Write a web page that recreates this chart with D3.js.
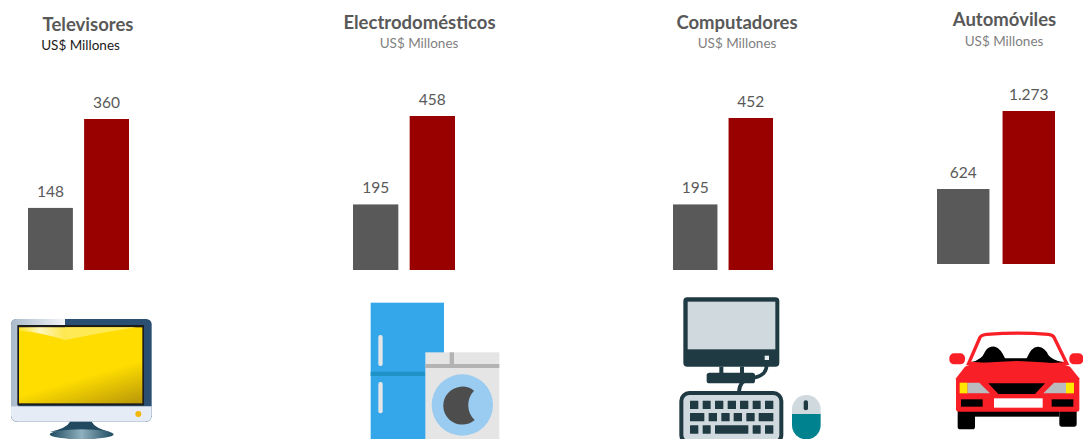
<!DOCTYPE html>
<html>
<head>
<meta charset="utf-8">
<script src="https://cdn.jsdelivr.net/npm/d3@7"></script>
<style>
  html, body { margin: 0; padding: 0; background: #fff; }
  text { font-family: Lato, "Open Sans", sans-serif; }
</style>
</head>
<body>
<div id="chart"></div>
<script>
// Values
const categories = ['Televisores', 'Electrodomésticos', 'Computadores', 'Automóviles'];
const subtitles = ['US$ Millones', 'US$ Millones', 'US$ Millones', 'US$ Millones'];
const greyValues = [148, 195, 195, 624];
const redValues = [360, 458, 452, 1273];

// Panel layout, one entry per category
const panelLeft = [28, 353, 673, 937];
const panelRight = [129, 455, 773, 1055];
const panelBase = [270, 270, 270, 264];
const panelHeight = [151, 154, 152, 153];
const titleX = [88, 419.5, 737, 1004.5];
const titleY = [31, 29, 29, 26];
const subX = [80.5, 419, 737, 1004];
const subY = [50, 48, 48, 46];
const subColor = ['#1a1a1a', '#7f7f7f', '#7f7f7f', '#7f7f7f'];

const grey = '#595959';
const red = '#990000';

const fmt = d3.formatLocale({ decimal: ',', thousands: '.', grouping: [3], currency: ['', ''] }).format(',d');

const svg = d3.select('#chart')
  .append('svg')
  .attr('width', 1083)
  .attr('height', 439)
  .style('display', 'block');

categories.forEach((name, i) => {
  const values = [greyValues[i], redValues[i]];
  const g = svg.append('g').attr('class', 'panel');

  const x = d3.scaleBand()
    .domain([0, 1])
    .range([panelLeft[i], panelRight[i]])
    .paddingInner(0.2);

  const y = d3.scaleLinear()
    .domain([0, redValues[i]])
    .range([panelBase[i], panelBase[i] - panelHeight[i]]);

  g.selectAll('rect')
    .data(values)
    .enter()
    .append('rect')
    .attr('x', (d, j) => x(j))
    .attr('y', d => y(d))
    .attr('width', x.bandwidth())
    .attr('height', d => y(0) - y(d))
    .attr('fill', (d, j) => j === 0 ? grey : red);

  g.selectAll('.value')
    .data(values)
    .enter()
    .append('text')
    .attr('class', 'value')
    .attr('x', (d, j) => x(j) + x.bandwidth() / 2)
    .attr('y', d => y(d) - 11)
    .attr('text-anchor', 'middle')
    .attr('font-size', 15.5)
    .attr('fill', grey)
    .text(d => fmt(d));

  g.append('text')
    .attr('x', titleX[i])
    .attr('y', titleY[i])
    .attr('text-anchor', 'middle')
    .attr('font-size', 18.5)
    .attr('font-weight', 700)
    .attr('fill', grey)
    .text(name);

  g.append('text')
    .attr('x', subX[i])
    .attr('y', subY[i])
    .attr('text-anchor', 'middle')
    .attr('font-size', 13.5)
    .attr('fill', subColor[i])
    .text(subtitles[i]);
});

// Icons, drawn at 3x and scaled down
function icon(ox, oy) {
  return svg.append('g').attr('transform', `translate(${ox},${oy}) scale(${1 / 3})`);
}
function box(g, x0, y0, x1, y1, fill, r) {
  return g.append('rect')
    .attr('x', x0).attr('y', y0)
    .attr('width', x1 - x0).attr('height', y1 - y0)
    .attr('rx', r || 0)
    .attr('fill', fill);
}
function shape(g, d, fill) {
  return g.append('path').attr('d', d).attr('fill', fill);
}

// Gradients for the television
const defs = svg.append('defs');
const screenGrad = defs.append('linearGradient')
  .attr('id', 'screenGrad')
  .attr('x1', 0.35).attr('y1', 0.1).attr('x2', 0.8).attr('y2', 1.05);
screenGrad.append('stop').attr('offset', '0.55').attr('stop-color', '#ffdd00');
screenGrad.append('stop').attr('offset', '1').attr('stop-color', '#bd9c08');
const glareGrad = defs.append('linearGradient').attr('id', 'glareGrad');
glareGrad.append('stop').attr('offset', '0').attr('stop-color', '#fff').attr('stop-opacity', 0.15);
glareGrad.append('stop').attr('offset', '0.45').attr('stop-color', '#fff').attr('stop-opacity', 0.75);
glareGrad.append('stop').attr('offset', '1').attr('stop-color', '#fff').attr('stop-opacity', 0.3);
const frameGrad = defs.append('linearGradient').attr('id', 'frameGrad');
frameGrad.append('stop').attr('offset', '0').attr('stop-color', '#a9bacb');
frameGrad.append('stop').attr('offset', '1').attr('stop-color', '#f2f4f7');
const baseGrad = defs.append('linearGradient').attr('id', 'standGrad');
baseGrad.append('stop').attr('offset', '0').attr('stop-color', '#1f4a60');
baseGrad.append('stop').attr('offset', '0.5').attr('stop-color', '#8fb0bd');
baseGrad.append('stop').attr('offset', '1').attr('stop-color', '#1f4a60');

// Television
const tv = icon(0, 290);
box(tv, 33, 87, 455, 395, '#2b4e73', 16);
shape(tv, 'M195,87 H50 Q33,87 33,104 V350 H55 V105 H195 Z', 'url(#frameGrad)');
box(tv, 52, 105, 432, 346, '#1c1c1c');
box(tv, 57, 112, 427, 340, 'url(#screenGrad)');
shape(tv, 'M57,112 H195 V150 Q120,126 57,122 Z', 'url(#glareGrad)');
shape(tv, 'M195,112 H410 Q300,128 195,150 Z', '#ffea55');
shape(tv, 'M33,349 H455 V375 Q455,395 435,395 H53 Q33,395 33,375 Z', '#e6ecf6');
tv.append('circle').attr('cx', 415).attr('cy', 372).attr('r', 9).attr('fill', '#f2b705');
shape(tv, 'M210,395 H275 Q285,415 330,425 L150,425 Q200,415 210,395 Z', '#214a60');
tv.append('ellipse').attr('cx', 245).attr('cy', 433).attr('rx', 96).attr('ry', 15).attr('fill', 'url(#standGrad)');

// Fridge and washing machine
const wash = icon(350, 290);
box(wash, 62, 38, 282, 449, '#33a7ea');
box(wash, 62, 245, 226, 258, '#1f93c8');
box(wash, 85, 135, 98, 228, '#e6e6e6', 6);
box(wash, 85, 276, 98, 370, '#e6e6e6', 6);
box(wash, 226, 187, 448, 449, '#e5e5e5');
box(wash, 226, 222, 448, 234, '#b3b3b3');
box(wash, 299, 187, 312, 222, '#b3b3b3');
wash.append('circle').attr('cx', 337).attr('cy', 345).attr('r', 92).attr('fill', '#9acbf0');
shape(wash, 'M372,302 A57,57 0 1 0 374,390 A62,62 0 0 1 372,302 Z', '#4d4d4d');

// Computer
const dark = '#1f3a42';
const pale = '#cfd9de';
const pc = icon(660, 290);
box(pc, 70, 22, 358, 230, dark, 12);
box(pc, 83, 35, 346, 178, pale);
box(pc, 314, 197, 327, 210, '#e8eef0');
box(pc, 178, 230, 190, 250, dark);
box(pc, 240, 230, 252, 250, dark);
box(pc, 140, 248, 285, 280, dark, 8);
pc.append('path')
  .attr('d', 'M320,228 C318,255 295,262 270,265 C245,270 238,285 237,305')
  .attr('fill', 'none').attr('stroke', dark).attr('stroke-width', 11);
pc.append('rect')
  .attr('x', 64).attr('y', 309).attr('width', 300).attr('height', 150).attr('rx', 24)
  .attr('fill', pale).attr('stroke', dark).attr('stroke-width', 12);
[[332, [[90, 115], [128, 152], [165, 190], [203, 228], [240, 265], [278, 302], [315, 340]]],
 [369, [[90, 133], [146, 171], [184, 209], [221, 246], [259, 284], [296, 340]]],
 [406, [[90, 115], [128, 152], [165, 265], [278, 302], [315, 340]]]
].forEach(([top, keys]) => {
  keys.forEach(k => box(pc, k[0], top, k[1], top + 25, dark, 1));
});
shape(pc, 'M396,372 V358 A43,43 0 0 1 482,358 V372 Z', pale);
shape(pc, 'M396,372 H482 V405 A43,43 0 0 1 396,405 Z', '#00838f');
box(pc, 431, 331, 444, 361, dark, 6);

// Car
const carRed = '#f91f26';
const car = icon(930, 310);
box(car, 83, 295, 135, 358, '#000', 8);
box(car, 388, 295, 440, 350, '#000', 8);
box(car, 135, 300, 388, 320, '#000');
box(car, 58, 130, 105, 163, carRed, 14);
box(car, 418, 130, 460, 163, carRed, 14);
car.append('path')
  .attr('d', 'M116,160 L150,82 Q155,74 170,73 Q265,66 355,73 Q368,74 372,82 L410,160 Z')
  .attr('fill', '#fff').attr('stroke', carRed).attr('stroke-width', 10);
shape(car, 'M125,155 Q155,150 165,125 Q175,108 195,110 Q212,115 225,145 H290 Q305,108 325,110 Q345,112 355,135 Q365,150 400,157 L260,165 Z', '#000');
shape(car, 'M78,205 L105,170 Q120,158 260,153 Q400,158 420,170 L448,205 V300 Q448,305 440,305 H88 Q78,305 78,298 Z', carRed);
shape(car, 'M112,218 H148 L180,250 H112 Z', '#b9bbbe');
box(car, 89, 218, 112, 250, '#ffe800');
shape(car, 'M408,218 H372 L340,250 H408 Z', '#b9bbbe');
box(car, 408, 218, 432, 250, '#ffe800');
shape(car, 'M175,220 H345 L315,252 H205 Z', '#000');
box(car, 93, 268, 158, 290, '#000');
box(car, 365, 268, 430, 290, '#000');
box(car, 192, 265, 338, 293, '#fff');
</script>
</body>
</html>
